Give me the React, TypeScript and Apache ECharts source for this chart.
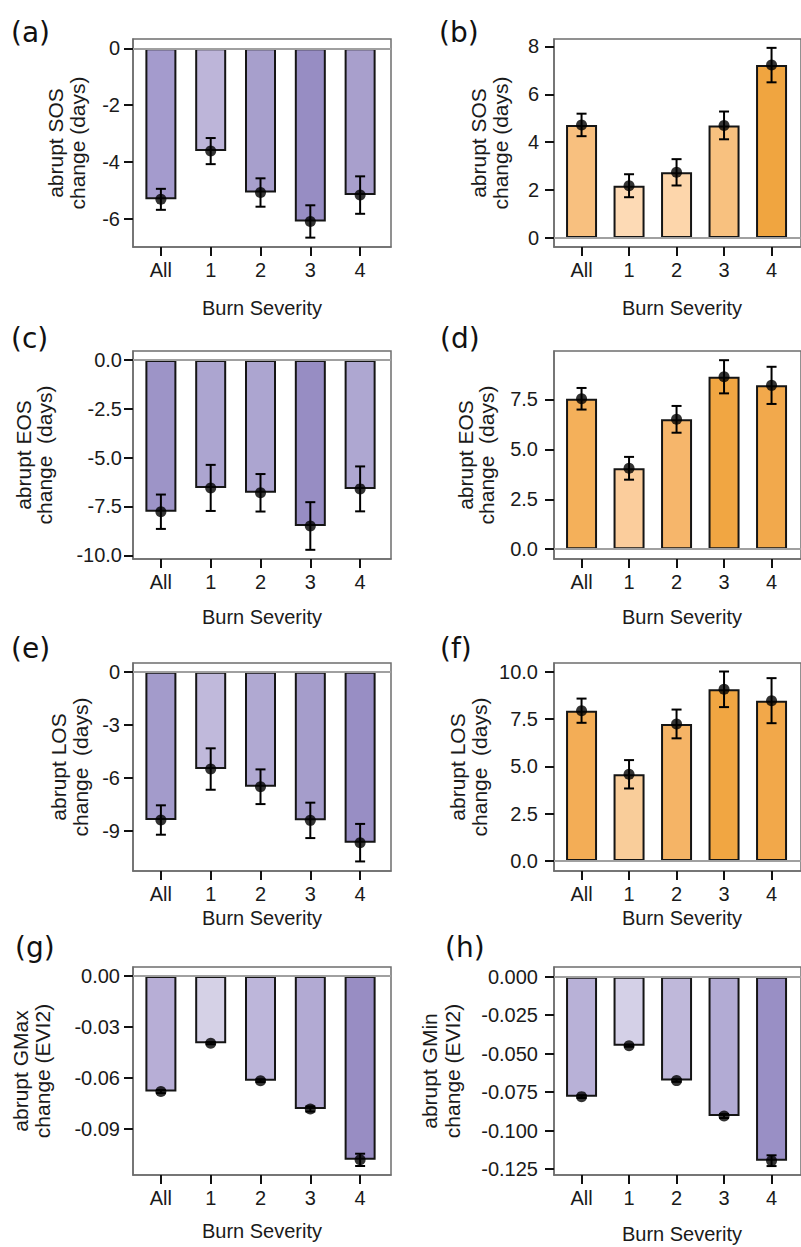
import React, { useEffect, useRef } from "react";
import * as echarts from "echarts";

const categories = ["All", "1", "2", "3", "4"];
const catIndex = [0, 1, 2, 3, 4];

// (a) abrupt SOS change, negative
const sosNegMean = [-5.32, -3.62, -5.08, -6.1, -5.17];
const sosNegSE = [0.37, 0.46, 0.5, 0.57, 0.66];
// (b) abrupt SOS change, positive
const sosPosMean = [4.72, 2.18, 2.74, 4.7, 7.22];
const sosPosSE = [0.47, 0.48, 0.55, 0.58, 0.72];
// (c) abrupt EOS change, negative
const eosNegMean = [-7.77, -6.55, -6.8, -8.5, -6.6];
const eosNegSE = [0.88, 1.18, 0.96, 1.22, 1.15];
// (d) abrupt EOS change, positive
const eosPosMean = [7.53, 4.05, 6.5, 8.63, 8.2];
const eosPosSE = [0.54, 0.57, 0.67, 0.83, 0.93];
// (e) abrupt LOS change, negative
const losNegMean = [-8.38, -5.5, -6.5, -8.4, -9.66];
const losNegSE = [0.83, 1.17, 0.98, 1.0, 1.06];
// (f) abrupt LOS change, positive
const losPosMean = [7.94, 4.58, 7.24, 9.07, 8.47];
const losPosSE = [0.64, 0.75, 0.76, 0.94, 1.19];
// (g) abrupt GMax change
const gmaxMean = [-0.0679, -0.0395, -0.0615, -0.0781, -0.108];
const gmaxSE = [0.0009, 0.0006, 0.0008, 0.0015, 0.0036];
// (h) abrupt GMin change
const gminMean = [-0.0779, -0.0448, -0.0675, -0.0905, -0.1195];
const gminSE = [0.0009, 0.0007, 0.0008, 0.0013, 0.0035];

// tick values
const ticksA = [0, -2, -4, -6];
const ticksB = [0, 2, 4, 6, 8];
const ticksC = [0, -2.5, -5, -7.5, -10];
const ticksD = [0, 2.5, 5, 7.5];
const ticksE = [0, -3, -6, -9];
const ticksF = [0, 2.5, 5, 7.5, 10];
const ticksG = [0, -0.03, -0.06, -0.09];
const ticksH = [0, -0.025, -0.05, -0.075, -0.1, -0.125];

// bar fill colours
const colorsA = ["#a49bcd", "#bdb5d9", "#a79fcc", "#978dc3", "#a89fcc"];
const colorsB = ["#f8c07f", "#fddab5", "#fdd6ab", "#f8c17f", "#f0a540"];
const colorsC = ["#9d94c7", "#aca5d0", "#aca5d0", "#978dc3", "#aea7d1"];
const colorsD = ["#f4b05a", "#fbcd9c", "#f6b66b", "#f1a642", "#f2a94c"];
const colorsE = ["#a39bcb", "#c0b9db", "#b0a9d2", "#a59dcb", "#988ec4"];
const colorsF = ["#f3ad56", "#f9cd9a", "#f5b466", "#f1a642", "#f2a84a"];
const colorsG = ["#b7aed6", "#d5d1e6", "#bdb6da", "#b2aad3", "#988dc3"];
const colorsH = ["#b8b1d7", "#d4d0e7", "#bfb8da", "#b2abd4", "#998fc5"];

const AXIS_FONT = "'Liberation Sans', Arial, Helvetica, sans-serif";
const TICK_LEN = 9;

type Panel = {
  tag: string;
  mean: number[];
  se: number[];
  colors: string[];
  ticks: number[];
  dec: number;
  yMin: number;
  yMax: number;
  left: number;
  top: number;
  width: number;
  xMin: number;
  xMax: number;
  yTitle: [string, string];
  yTitleX: [number, number];
  xTitleX: number;
  xTitleY: number;
  tagX: number;
  tagY: number;
  labelMargin: number;
};

const panels: Panel[] = [
  { tag: "(a)", mean: sosNegMean, se: sosNegSE, colors: colorsA, ticks: ticksA, dec: 0, yMin: -7.0, yMax: 0.33, left: 133, top: 39, width: 258, xMin: -0.56, xMax: 4.62, yTitle: ["abrupt SOS", "change (days)"], yTitleX: [55, 77], xTitleX: 262, xTitleY: 308, tagX: 11, tagY: 32, labelMargin: 13 },
  { tag: "(b)", mean: sosPosMean, se: sosPosSE, colors: colorsB, ticks: ticksB, dec: 0, yMin: -0.38, yMax: 8.31, left: 554, top: 39, width: 259, xMin: -0.58, xMax: 4.62, yTitle: ["abrupt SOS", "change (days)"], yTitleX: [478, 500], xTitleX: 682, xTitleY: 308, tagX: 439, tagY: 32, labelMargin: 15 },
  { tag: "(c)", mean: eosNegMean, se: eosNegSE, colors: colorsC, ticks: ticksC, dec: 1, yMin: -10.19, yMax: 0.46, left: 133, top: 351, width: 258, xMin: -0.56, xMax: 4.62, yTitle: ["abrupt EOS", "change  (days)"], yTitleX: [23, 44], xTitleX: 262, xTitleY: 617, tagX: 11, tagY: 338, labelMargin: 11 },
  { tag: "(d)", mean: eosPosMean, se: eosPosSE, colors: colorsD, ticks: ticksD, dec: 1, yMin: -0.49, yMax: 9.92, left: 554, top: 351, width: 259, xMin: -0.58, xMax: 4.62, yTitle: ["abrupt EOS", "change  (days)"], yTitleX: [465, 486], xTitleX: 682, xTitleY: 617, tagX: 440, tagY: 338, labelMargin: 16 },
  { tag: "(e)", mean: losNegMean, se: losNegSE, colors: colorsE, ticks: ticksE, dec: 0, yMin: -11.26, yMax: 0.49, left: 133, top: 663, width: 258, xMin: -0.56, xMax: 4.62, yTitle: ["abrupt LOS", "change  (days)"], yTitleX: [58, 80], xTitleX: 262, xTitleY: 918, tagX: 11, tagY: 648, labelMargin: 13 },
  { tag: "(f)", mean: losPosMean, se: losPosSE, colors: colorsF, ticks: ticksF, dec: 1, yMin: -0.53, yMax: 10.46, left: 554, top: 663, width: 259, xMin: -0.58, xMax: 4.62, yTitle: ["abrupt LOS", "change  (days)"], yTitleX: [457, 479], xTitleX: 682, xTitleY: 918, tagX: 440, tagY: 648, labelMargin: 16 },
  { tag: "(g)", mean: gmaxMean, se: gmaxSE, colors: colorsG, ticks: ticksG, dec: 2, yMin: -0.1169, yMax: 0.0053, left: 133, top: 967, width: 258, xMin: -0.56, xMax: 4.62, yTitle: ["abrupt GMax", "change (EVI2)"], yTitleX: [20, 42], xTitleX: 262, xTitleY: 1231, tagX: 15, tagY: 947, labelMargin: 13 },
  { tag: "(h)", mean: gminMean, se: gminSE, colors: colorsH, ticks: ticksH, dec: 3, yMin: -0.1288, yMax: 0.0063, left: 554, top: 967, width: 259, xMin: -0.58, xMax: 4.62, yTitle: ["abrupt GMin", "change (EVI2)"], yTitleX: [429, 452], xTitleX: 682, xTitleY: 1234, tagX: 445, tagY: 947, labelMargin: 16 },
];

const PANEL_H = 208;

function buildOption() {
  const grid: any[] = [];
  const xAxis: any[] = [];
  const yAxis: any[] = [];
  const series: any[] = [];
  const graphic: any[] = [];

  panels.forEach((p, i) => {
    grid.push({
      left: p.left,
      top: p.top,
      width: p.width,
      height: PANEL_H,
      show: true,
      borderColor: "#6e6e6e",
      borderWidth: 1.5,
    });
    xAxis.push({
      type: "value",
      gridIndex: i,
      min: p.xMin,
      max: p.xMax,
      axisLine: { show: true, onZero: false, lineStyle: { color: "#6e6e6e", width: 1.5 } },
      splitLine: { show: false },
      axisTick: {
        show: true,
        customValues: catIndex,
        length: TICK_LEN,
        lineStyle: { color: "#111", width: 2 },
      },
      axisLabel: {
        customValues: catIndex,
        formatter: (v: number) => categories[Math.round(v)] ?? "",
        fontSize: 20,
        fontFamily: AXIS_FONT,
        color: "#1a1a1a",
        margin: 13,
      },
    });
    yAxis.push({
      type: "value",
      gridIndex: i,
      min: p.yMin,
      max: p.yMax,
      axisLine: { show: true, onZero: false, lineStyle: { color: "#6e6e6e", width: 1.5 } },
      splitLine: { show: false },
      axisTick: {
        show: true,
        customValues: p.ticks,
        length: TICK_LEN,
        lineStyle: { color: "#111", width: 2 },
      },
      axisLabel: {
        customValues: p.ticks,
        formatter: (v: number) => {
          const s = Number(v).toFixed(p.dec);
          return /^-0(\.0*)?$/.test(s) ? s.slice(1) : s;
        },
        fontSize: 20,
        fontFamily: AXIS_FONT,
        color: "#1a1a1a",
        margin: p.labelMargin,
      },
    });

    series.push({
      type: "bar",
      xAxisIndex: i,
      yAxisIndex: i,
      barWidth: 31,
      data: p.mean.map((v, k) => ({
        value: [k, v],
        itemStyle: { color: p.colors[k] },
      })),
      itemStyle: { borderColor: "#151515", borderWidth: 2 },
      markLine: {
        silent: true,
        symbol: "none",
        label: { show: false },
        lineStyle: { color: "#a0a0a0", width: 2, type: "solid" },
        data: [{ yAxis: 0 }],
      },
      z: 2,
    });
    // error bars
    series.push({
      type: "custom",
      xAxisIndex: i,
      yAxisIndex: i,
      data: p.mean.map((m, k) => [k, m - p.se[k], m + p.se[k]]),
      encode: { x: 0, y: [1, 2] },
      renderItem: (_params: any, api: any) => {
        const x = api.value(0);
        const lo = api.coord([x, api.value(1)]);
        const hi = api.coord([x, api.value(2)]);
        const hw = 5;
        const st = { stroke: "#000", lineWidth: 2 };
        return {
          type: "group",
          children: [
            { type: "line", shape: { x1: lo[0], y1: lo[1], x2: hi[0], y2: hi[1] }, style: st },
            { type: "line", shape: { x1: lo[0] - hw, y1: lo[1], x2: lo[0] + hw, y2: lo[1] }, style: st },
            { type: "line", shape: { x1: hi[0] - hw, y1: hi[1], x2: hi[0] + hw, y2: hi[1] }, style: st },
          ],
        };
      },
      z: 3,
    });
    series.push({
      type: "scatter",
      xAxisIndex: i,
      yAxisIndex: i,
      data: p.mean.map((m, k) => [k, m]),
      symbol: "circle",
      symbolSize: 11,
      itemStyle: { color: "#000" },
      z: 4,
    });

    // panel tag
    graphic.push({
      type: "text",
      x: p.tagX,
      y: p.tagY,
      style: {
        text: p.tag,
        fontSize: 28,
        fontFamily: "'DejaVu Sans', 'Noto Sans', sans-serif",
        fill: "#111",
        textAlign: "left",
        textVerticalAlign: "middle",
      },
    });
    // y titles (rotated)
    const cy = p.top + PANEL_H / 2;
    p.yTitle.forEach((t, j) => {
      graphic.push({
        type: "text",
        x: p.yTitleX[j],
        y: cy,
        rotation: Math.PI / 2,
        style: {
          text: t,
          fontSize: 21,
          fontFamily: AXIS_FONT,
          fill: "#1a1a1a",
          textAlign: "center",
          textVerticalAlign: "middle",
        },
      });
    });
    // x title
    graphic.push({
      type: "text",
      x: p.xTitleX,
      y: p.xTitleY,
      style: {
        text: "Burn Severity",
        fontSize: 20,
        fontFamily: AXIS_FONT,
        fill: "#1a1a1a",
        textAlign: "center",
        textVerticalAlign: "middle",
      },
    });
  });

  return {
    animation: false,
    grid,
    xAxis,
    yAxis,
    series,
    graphic,
  };
}

export default function App() {
  const ref = useRef<HTMLDivElement>(null);
  useEffect(() => {
    if (!ref.current) return;
    const chart = echarts.init(ref.current, undefined, { renderer: "svg" });
    chart.setOption(buildOption() as any);
    return () => chart.dispose();
  }, []);
  return (
    <div
      ref={ref}
      style={{ position: "absolute", left: 0, top: 0, width: 801, height: 1247, background: "#fff" }}
    />
  );
}
